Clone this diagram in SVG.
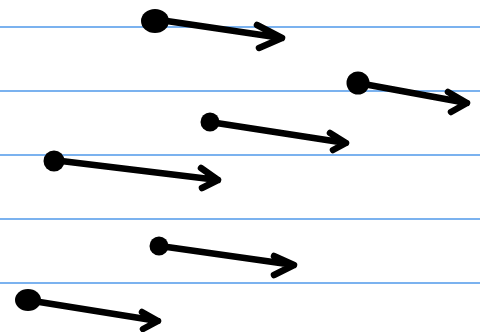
<svg xmlns="http://www.w3.org/2000/svg" width="480" height="332" viewBox="0 0 480 332">
<style>
.rule{stroke:#4f99ea;stroke-width:1.5;fill:none}
.shaft{stroke:#000;stroke-width:6.5;fill:none;stroke-linecap:round;stroke-linejoin:round}
.dot{fill:#000}
</style>
<rect width="480" height="332" fill="#fff"/>
<g id="rules">
<line class="rule" x1="0" y1="27" x2="480" y2="27"/>
<line class="rule" x1="0" y1="91" x2="480" y2="91"/>
<line class="rule" x1="0" y1="155" x2="480" y2="155"/>
<line class="rule" x1="0" y1="219" x2="480" y2="219"/>
<line class="rule" x1="0" y1="283" x2="480" y2="283"/>
</g>
<g id="connectors">
<g id="arrow1"><path class="shaft" d="M160 20 L282 38 M257 25 L282 38 L259 48"/><ellipse class="dot" cx="155" cy="21" rx="14" ry="12"/></g>
<g id="arrow2"><path class="shaft" d="M358 83 L467 103 M448 92 L467 103 L451 112"/><circle class="dot" cx="358" cy="83" r="11.5"/></g>
<g id="arrow3"><path class="shaft" d="M210 122 L346 143 M330 133 L346 143 L333 150"/><circle class="dot" cx="210" cy="122" r="9.5"/></g>
<g id="arrow4"><path class="shaft" d="M53 160 L218 180 M201 168 L218 180 L202 188"/><circle class="dot" cx="54" cy="161" r="10.5"/></g>
<g id="arrow5"><path class="shaft" d="M160 246 L294 265 M274 256 L294 265 L274 275"/><circle class="dot" cx="159" cy="246" r="9.5"/></g>
<g id="arrow6"><path class="shaft" d="M27 300 L158 321 M142 312 L158 321 L143 329"/><ellipse class="dot" cx="28" cy="300" rx="13" ry="11"/></g>
</g>
</svg>
